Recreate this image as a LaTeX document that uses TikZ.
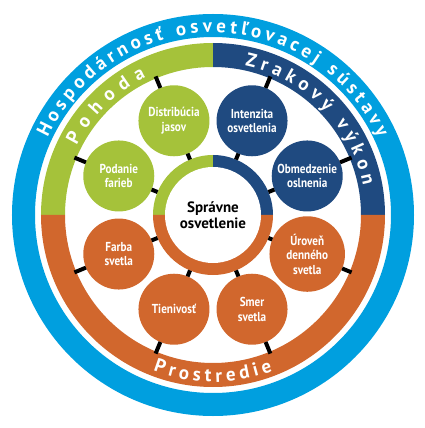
\documentclass[tikz,border=0pt]{standalone}
\usepackage{fontspec}
\setmainfont{PT Sans}
\newfontfamily\bubblefont{PT Sans}[FakeStretch=0.86]
\usetikzlibrary{decorations.text}
\definecolor{hospblue}{RGB}{0,159,223}
\definecolor{pohodagreen}{RGB}{165,194,58}
\definecolor{vykonblue}{RGB}{31,74,128}
\definecolor{prostredieorange}{RGB}{209,103,45}
\newcommand\ringtext{\color{white}\bfseries\fontsize{19}{19}\selectfont}

\begin{document}
\begin{tikzpicture}[bubble/.style={circle,minimum size=71pt,inner sep=0pt,outer sep=0pt,text width=64pt,align=center,text=white,font=\bubblefont\bfseries\fontsize{13}{14.5}\selectfont},
	link/.style={line width=4pt,black},
	ringlabel/.style={decorate,decoration={text along path,text align=fit to path,text={|\ringtext|#1}}}]
	\useasboundingbox (-213pt,-213pt) rectangle (212pt,215pt);
	\draw[hospblue,line width=23pt] (0,0) circle (189.5pt);
	\fill[pohodagreen] (180:172pt) arc (180:90:172pt) -- (90:148pt) arc (90:180:148pt) -- cycle;
	\fill[vykonblue] (90:172pt) arc (90:0:172pt) -- (0:148pt) arc (0:90:148pt) -- cycle;
	\fill[prostredieorange] (0:172pt) arc (0:-180:172pt) -- (180:148pt) arc (-180:0:148pt) -- cycle;
	\path[ringlabel=Hospodárnosť osvetľovacej sústavy] (155:182.5pt) arc (155:25:182.5pt);
	\path[ringlabel=Pohoda] (153:153pt) arc (153:116:153pt);
	\path[ringlabel=Zrakový výkon] (78:153pt) arc (78:11:153pt);
	\path[ringlabel=Prostredie] (249:167pt) arc (249:291:167pt);
	\fill[pohodagreen] (0,0) -- (180:60pt) arc (180:90:60pt) -- cycle;
	\fill[vykonblue] (0,0) -- (90:60pt) arc (90:0:60pt) -- cycle;
	\fill[prostredieorange] (0,0) -- (0:60pt) arc (0:-180:60pt) -- cycle;
	\fill[white] (0,0) circle (48pt);
	\node[circle,minimum size=120pt,inner sep=0pt,outer sep=0pt,align=center,font=\bfseries\fontsize{15}{16.5}\selectfont] (center) at (0,0) {Správne\\osvetlenie};
	\node[bubble,fill=pohodagreen] (distribucia) at (112.5:102pt) {Distribúcia\\jasov};
	\node[bubble,fill=pohodagreen] (podanie) at (157.5:102pt) {Podanie\\farieb};
	\node[bubble,fill=vykonblue] (intenzita) at (67.5:102pt) {Intenzita\\osvetlenia};
	\node[bubble,fill=vykonblue] (obmedzenie) at (22.5:102pt) {Obmedzenie\\oslnenia};
	\node[bubble,fill=prostredieorange] (uroven) at (-22.5:102pt) {Úroveň\\denného\\svetla};
	\node[bubble,fill=prostredieorange] (smer) at (-67.5:102pt) {Smer\\svetla};
	\node[bubble,fill=prostredieorange] (tienivost) at (-112.5:102pt) {Tienivosť};
	\node[bubble,fill=prostredieorange] (farba) at (-157.5:102pt) {Farba\\svetla};
	\coordinate (distribuciarim) at (112.5:150pt);
	\coordinate (podanierim) at (157.5:150pt);
	\coordinate (intenzitarim) at (67.5:150pt);
	\coordinate (obmedzenierim) at (22.5:150pt);
	\coordinate (urovenrim) at (-22.5:150pt);
	\coordinate (smerrim) at (-67.5:150pt);
	\coordinate (tienivostrim) at (-112.5:150pt);
	\coordinate (farbarim) at (-157.5:150pt);
	\draw[link] (center) -- (distribucia);
	\draw[link] (center) -- (podanie);
	\draw[link] (center) -- (intenzita);
	\draw[link] (center) -- (obmedzenie);
	\draw[link] (center) -- (uroven);
	\draw[link] (center) -- (smer);
	\draw[link] (center) -- (tienivost);
	\draw[link] (center) -- (farba);
	\draw[link] (distribucia) -- (distribuciarim);
	\draw[link] (podanie) -- (podanierim);
	\draw[link] (intenzita) -- (intenzitarim);
	\draw[link] (obmedzenie) -- (obmedzenierim);
	\draw[link] (uroven) -- (urovenrim);
	\draw[link] (smer) -- (smerrim);
	\draw[link] (tienivost) -- (tienivostrim);
	\draw[link] (farba) -- (farbarim);
\end{tikzpicture}
\end{document}
